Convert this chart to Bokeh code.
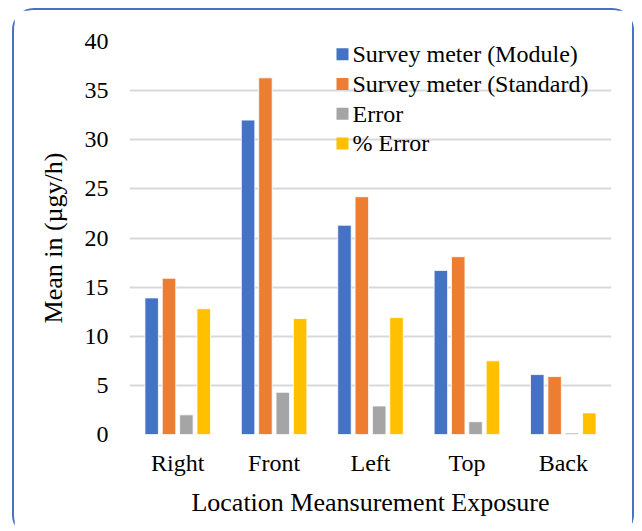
from bokeh.plotting import figure
from bokeh.models import ColumnDataSource, FactorRange, Range1d, FixedTicker
from bokeh.core.properties import value
from bokeh.transform import dodge
from bokeh.embed import file_html
from bokeh.resources import INLINE

categories = ["Right", "Front", "Left", "Top", "Back"]
module = [13.9, 32.0, 21.3, 16.7, 6.1]
standard = [15.9, 36.3, 24.2, 18.1, 5.9]
error = [2.0, 4.3, 2.9, 1.3, 0.15]
pct_error = [12.8, 11.8, 11.9, 7.5, 2.2]
y_ticks = [0, 5, 10, 15, 20, 25, 30, 35, 40]

series_names = ["Survey meter (Module)", "Survey meter (Standard)", "Error", "% Error"]
series_keys = ["module", "standard", "error", "pct"]
colors = ["#4472C4", "#ED7D31", "#A5A5A5", "#FFC000"]
offsets = [-0.27, -0.09, 0.09, 0.27]

src = ColumnDataSource(dict(cat=categories, module=module, standard=standard,
                            error=error, pct=pct_error))

FONT = "Liberation Serif"
Y_MAX = 40

# frame geometry (px)
FRAME_W = 482
FRAME_H = 393
p = figure(x_range=FactorRange(*categories), y_range=Range1d(0, Y_MAX),
           width=622, height=529, output_backend="svg", toolbar_location=None,
           min_border_left=115, min_border_right=25, min_border_top=31, min_border_bottom=105)
p.styles = {"position": "absolute", "left": "12px", "top": "8px",
            "border": "2px solid #4472C4", "border-radius": "22px"}
p.x_range.range_padding = 0
p.outline_line_color = None
p.background_fill_color = "white"
p.border_fill_color = "white"

for key, col, off in zip(series_keys, colors, offsets):
    p.vbar(x=dodge("cat", off, range=p.x_range), top=key, width=0.14, source=src,
           fill_color=col, line_color="white", line_width=0.8)

# legend drawn in the top right of the frame (offsets in px from frame top-left)
px_per_cat = FRAME_W / len(categories)
px_per_unit = FRAME_H / Y_MAX
sq_x_px, txt_x_px, row0_px, row_step_px = 213, 223, 12.8, 29.7
leg = ColumnDataSource(dict(
    name=series_names, color=colors,
    sx=[sq_x_px / px_per_cat] * 4,
    tx=[txt_x_px / px_per_cat] * 4,
    y=[Y_MAX - (row0_px + i * row_step_px) / px_per_unit for i in range(4)],
))
p.scatter(x="sx", y="y", marker="square", size=12, fill_color="color", line_color=None, source=leg)
p.text(x="tx", y="y", text="name", source=leg, text_font=value(FONT), text_font_size="24px",
       text_color="black", text_baseline="middle", text_align="left")

p.xgrid.grid_line_color = None
p.ygrid.grid_line_color = "#D9D9D9"
p.ygrid.grid_line_width = 2
p.yaxis.ticker = FixedTicker(ticks=y_ticks)

for ax in (p.xaxis, p.yaxis):
    ax.axis_line_color = None
    ax.major_tick_line_color = None
    ax.minor_tick_line_color = None
    ax.major_tick_out = 0
    ax.major_tick_in = 0
    ax.major_label_text_font = FONT
    ax.major_label_text_font_size = "24px"
    ax.major_label_text_color = "black"
    ax.axis_label_text_font = FONT
    ax.axis_label_text_font_size = "26px"
    ax.axis_label_text_font_style = "normal"
    ax.axis_label_text_color = "black"

p.yaxis.major_label_standoff = 21
p.yaxis.axis_label = "Mean in (µgy/h)"
p.yaxis.axis_label_standoff = 14
p.xaxis.major_label_standoff = 15
p.xaxis.axis_label = "Location Meansurement Exposure"
p.xaxis.axis_label_standoff = 9

open("out.html", "w").write(file_html(p, INLINE))
